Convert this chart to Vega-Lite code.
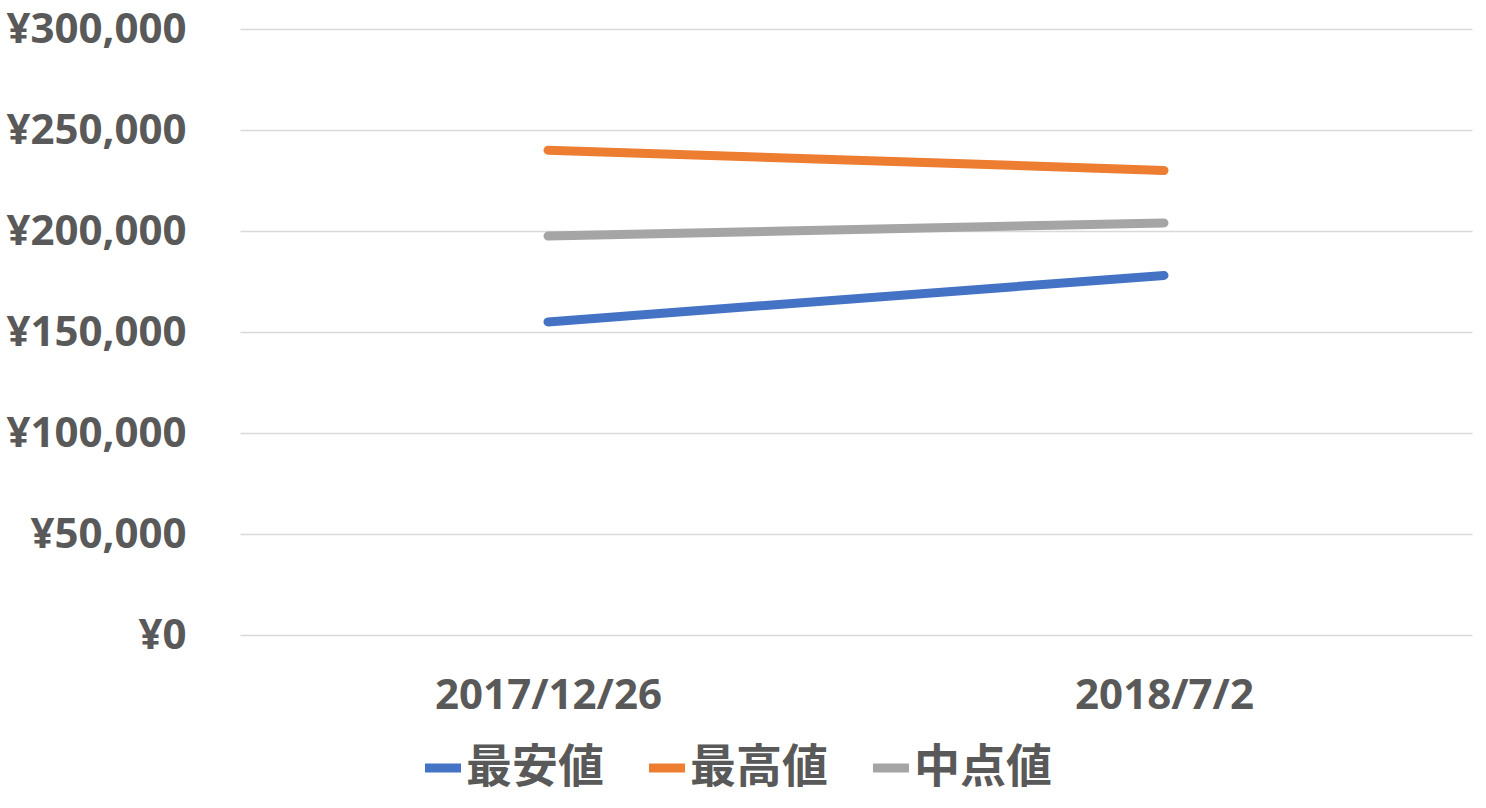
{
  "$schema": "https://vega.github.io/schema/vega-lite/v6.json",
  "autosize": {"type": "none"},
  "padding": {"left": 240, "top": 29, "right": 14, "bottom": 173},
  "width": 1232,
  "height": 606,
  "background": "white",
  "config": {"view": {"stroke": null}},
  "data": {
    "values": [
      {"date": "2017/12/26", "series": "最安値", "value": 155000},
      {"date": "2018/7/2", "series": "最安値", "value": 178000},
      {"date": "2017/12/26", "series": "最高値", "value": 240000},
      {"date": "2018/7/2", "series": "最高値", "value": 230000},
      {"date": "2017/12/26", "series": "中点値", "value": 197500},
      {"date": "2018/7/2", "series": "中点値", "value": 204000}
    ]
  },
  "mark": {"type": "line", "strokeWidth": 9, "strokeCap": "round"},
  "encoding": {
    "x": {
      "field": "date", "type": "ordinal", "sort": null,
      "scale": {"type": "point", "padding": 0.5},
      "axis": {
        "title": null, "labelAngle": 0, "domain": false, "ticks": false, "grid": false,
        "labelFont": "Open Sans", "labelFontWeight": "bold", "labelFontSize": 42,
        "labelColor": "#595959", "labelPadding": 40, "labelLimit": 600, "labelOverlap": false
      }
    },
    "y": {
      "field": "value", "type": "quantitative",
      "scale": {"domain": [0, 300000], "nice": false},
      "axis": {
        "title": null, "values": [0, 50000, 100000, 150000, 200000, 250000, 300000],
        "domain": false, "ticks": false, "grid": true, "gridColor": "#D9D9D9", "gridWidth": 1.3,
        "labelExpr": "'¥' + format(datum.value, ',')",
        "labelFont": "Open Sans", "labelFontWeight": "bold", "labelFontSize": 42,
        "labelColor": "#595959", "labelPadding": 54, "labelLimit": 600, "labelOverlap": false
      }
    },
    "color": {
      "field": "series", "type": "nominal",
      "scale": {"domain": ["最安値", "最高値", "中点値"], "range": ["#4472C4", "#ED7D31", "#A5A5A5"]},
      "legend": {
        "title": null, "orient": "none", "direction": "horizontal",
        "legendX": 180, "legendY": 716,
        "symbolType": "stroke", "symbolStrokeWidth": 9, "symbolSize": 1300,
        "labelFont": "Noto Sans CJK JP", "labelFontWeight": "bold", "labelFontSize": 46,
        "labelColor": "#595959", "labelOffset": 0, "columnPadding": 26, "labelLimit": 400
      }
    }
  }
}
